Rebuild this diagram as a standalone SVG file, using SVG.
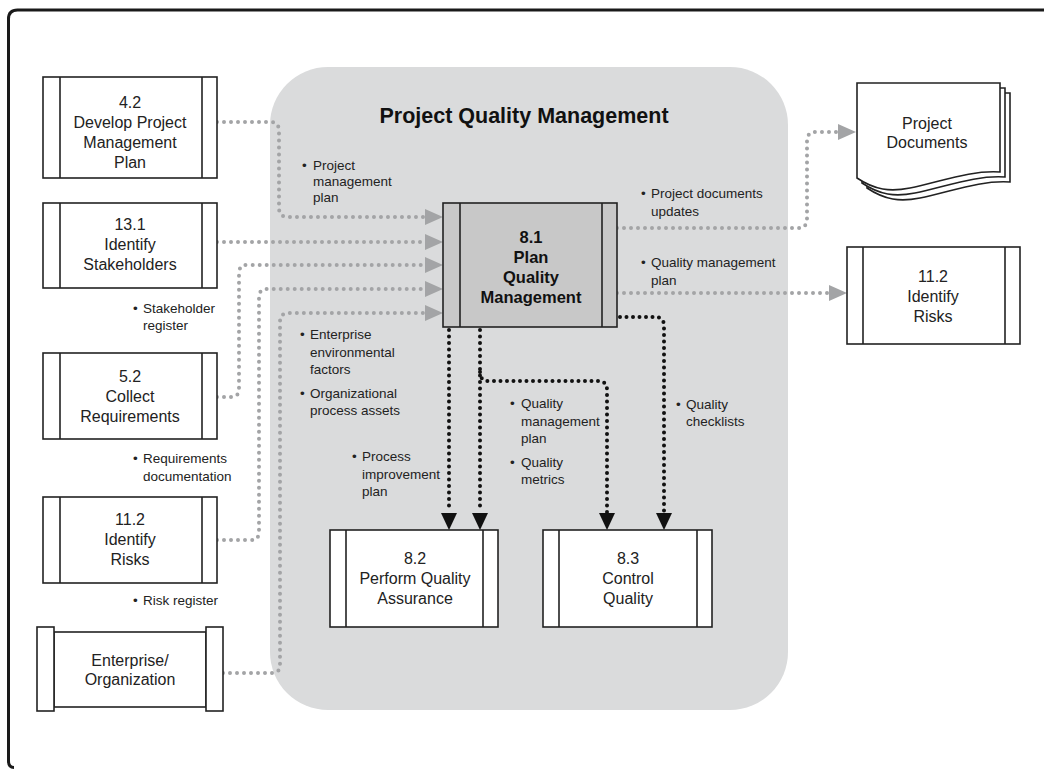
<svg xmlns="http://www.w3.org/2000/svg" width="1044" height="769" viewBox="0 0 1044 769">
<defs>
<style>
.frame{fill:none;stroke:#1a1a1a;stroke-width:3}
.box{fill:#fff;stroke:#222;stroke-width:1.6}
.box81{fill:#c8c8c8;stroke:#222;stroke-width:1.6}
.ln{stroke:#222;stroke-width:1.6;fill:none}
.gd{fill:none;stroke:#a3a4a6;stroke-width:4;stroke-linecap:round;stroke-dasharray:0 7}
.bd{fill:none;stroke:#111;stroke-width:4;stroke-linecap:round;stroke-dasharray:0 6.5}
.ga{fill:#a3a4a6}
.ba{fill:#111}
.bt{font-family:"Liberation Sans",Arial,sans-serif;font-size:16px;fill:#222;text-anchor:middle}
.bb{font-family:"Liberation Sans",Arial,sans-serif;font-size:16.5px;font-weight:bold;fill:#111;text-anchor:middle}
.lb{font-family:"Liberation Sans",Arial,sans-serif;font-size:13.5px;fill:#222}
.tt{font-family:"Liberation Sans",Arial,sans-serif;font-size:21.5px;font-weight:bold;fill:#111;text-anchor:middle}
</style>
</defs>
<rect x="0" y="0" width="1044" height="769" fill="#fff"/>
<path class="frame" d="M14,767.5 Q8.5,767.5 8.5,761 V19 Q8.5,10 17.5,10 H1044"/>
<rect x="270" y="67" width="518" height="643" rx="58" fill="#dadbdc"/>
<text class="tt" x="524" y="123">Project Quality Management</text>

<g id="connectors">
<path class="gd" d="M217,122 H270 Q279,122 279,131 V208 Q279,217 288,217 H425"/>
<path class="gd" d="M217,242 H425"/>
<path class="gd" d="M217,397 H231 Q239,397 239,389 V273 Q239,265 247,265 H425"/>
<path class="gd" d="M217,540 H251 Q259,540 259,532 V297 Q259,289 267,289 H425"/>
<path class="gd" d="M223,673 H272 Q280,673 280,665 V322 Q280,313 289,313 H425"/>
<polygon class="ga" points="425,209 443,217 425,225"/>
<polygon class="ga" points="425,234 443,242 425,250"/>
<polygon class="ga" points="425,257 443,265 425,273"/>
<polygon class="ga" points="425,281 443,289 425,297"/>
<polygon class="ga" points="425,305 443,313 425,321"/>
<path class="gd" d="M617,228 H798 Q807,228 807,219 V141 Q807,132 816,132 H838"/>
<polygon class="ga" points="838,124 856,132 838,140"/>
<path class="gd" d="M617,293 H829"/>
<polygon class="ga" points="829,285 847,293 829,301"/>
<path class="bd" d="M449,330 V512"/>
<path class="bd" d="M480,330 V512"/>
<path class="bd" d="M480,372 Q480,381 489,381 H598 Q607,381 607,390 V512"/>
<path class="bd" d="M620,317 H655 Q664,317 664,326 V512"/>
<polygon class="ba" points="441,513 457,513 449,530"/>
<polygon class="ba" points="472,513 488,513 480,530"/>
<polygon class="ba" points="599,513 615,513 607,530"/>
<polygon class="ba" points="656,513 672,513 664,530"/>
</g>

<g id="n42">
<rect class="box" x="43" y="77" width="174" height="101"/>
<path class="ln" d="M60,77 V178 M202,77 V178"/>
<text class="bt" x="130" y="108">4.2</text>
<text class="bt" x="130" y="128">Develop Project</text>
<text class="bt" x="130" y="148">Management</text>
<text class="bt" x="130" y="168">Plan</text>
</g>
<g id="n131">
<rect class="box" x="43" y="203" width="174" height="85"/>
<path class="ln" d="M60,203 V288 M202,203 V288"/>
<text class="bt" x="130" y="230">13.1</text>
<text class="bt" x="130" y="250">Identify</text>
<text class="bt" x="130" y="270">Stakeholders</text>
</g>
<g id="n52">
<rect class="box" x="43" y="353" width="174" height="86"/>
<path class="ln" d="M60,353 V439 M202,353 V439"/>
<text class="bt" x="130" y="382">5.2</text>
<text class="bt" x="130" y="402">Collect</text>
<text class="bt" x="130" y="422">Requirements</text>
</g>
<g id="n112a">
<rect class="box" x="43" y="497" width="174" height="86"/>
<path class="ln" d="M60,497 V583 M202,497 V583"/>
<text class="bt" x="130" y="525">11.2</text>
<text class="bt" x="130" y="545">Identify</text>
<text class="bt" x="130" y="565">Risks</text>
</g>
<g id="nEnt">
<rect class="box" x="54" y="632" width="152" height="75"/>
<rect class="box" x="37" y="627" width="17" height="84"/>
<rect class="box" x="206" y="627" width="17" height="84"/>
<text class="bt" x="130" y="666">Enterprise/</text>
<text class="bt" x="130" y="685">Organization</text>
</g>
<g id="n81">
<rect class="box81" x="443" y="203" width="174" height="124"/>
<path class="ln" d="M460,203 V327 M602,203 V327"/>
<text class="bb" x="531" y="243">8.1</text>
<text class="bb" x="531" y="263">Plan</text>
<text class="bb" x="531" y="283">Quality</text>
<text class="bb" x="531" y="303">Management</text>
</g>
<g id="n82">
<rect class="box" x="330" y="530" width="168" height="97"/>
<path class="ln" d="M346,530 V627 M483,530 V627"/>
<text class="bt" x="415" y="564">8.2</text>
<text class="bt" x="415" y="584">Perform Quality</text>
<text class="bt" x="415" y="604">Assurance</text>
</g>
<g id="n83">
<rect class="box" x="543" y="530" width="169" height="97"/>
<path class="ln" d="M559,530 V627 M697,530 V627"/>
<text class="bt" x="628" y="564">8.3</text>
<text class="bt" x="628" y="584">Control</text>
<text class="bt" x="628" y="604">Quality</text>
</g>
<g id="nDocs">
<path class="box" d="M867,93 H1010 V182 C980,180 950,192 920,198 C900,202 885,200 867,188 Z"/>
<path class="box" d="M862,88 H1005 V177 C975,175 945,187 915,193 C895,197 880,195 862,183 Z"/>
<path class="box" d="M857,83 H1000 V172 C970,170 940,182 910,188 C890,192 875,190 857,178 Z"/>
<text class="bt" x="927" y="129">Project</text>
<text class="bt" x="927" y="148">Documents</text>
</g>
<g id="n112b">
<rect class="box" x="847" y="247" width="173" height="97"/>
<path class="ln" d="M863,247 V344 M1005,247 V344"/>
<text class="bt" x="933" y="282">11.2</text>
<text class="bt" x="933" y="302">Identify</text>
<text class="bt" x="933" y="322">Risks</text>
</g>

<g id="labels">
<text class="lb" x="302" y="170">•</text>
<text class="lb" x="313" y="170">Project</text>
<text class="lb" x="313" y="186">management</text>
<text class="lb" x="313" y="202">plan</text>

<text class="lb" x="133" y="313">•</text>
<text class="lb" x="143" y="313">Stakeholder</text>
<text class="lb" x="143" y="330">register</text>

<text class="lb" x="133" y="463">•</text>
<text class="lb" x="143" y="463">Requirements</text>
<text class="lb" x="143" y="481">documentation</text>

<text class="lb" x="133" y="605">•</text>
<text class="lb" x="143" y="605">Risk register</text>

<text class="lb" x="300" y="339">•</text>
<text class="lb" x="310" y="339">Enterprise</text>
<text class="lb" x="310" y="357">environmental</text>
<text class="lb" x="310" y="374">factors</text>
<text class="lb" x="300" y="398">•</text>
<text class="lb" x="310" y="398">Organizational</text>
<text class="lb" x="310" y="415">process assets</text>

<text class="lb" x="352" y="461">•</text>
<text class="lb" x="362" y="461">Process</text>
<text class="lb" x="362" y="479">improvement</text>
<text class="lb" x="362" y="496">plan</text>

<text class="lb" x="510" y="408">•</text>
<text class="lb" x="521" y="408">Quality</text>
<text class="lb" x="521" y="426">management</text>
<text class="lb" x="521" y="443">plan</text>
<text class="lb" x="510" y="467">•</text>
<text class="lb" x="521" y="467">Quality</text>
<text class="lb" x="521" y="484">metrics</text>

<text class="lb" x="676" y="409">•</text>
<text class="lb" x="686" y="409">Quality</text>
<text class="lb" x="686" y="426">checklists</text>

<text class="lb" x="641" y="198">•</text>
<text class="lb" x="651" y="198">Project documents</text>
<text class="lb" x="651" y="216">updates</text>
<text class="lb" x="641" y="267">•</text>
<text class="lb" x="651" y="267">Quality management</text>
<text class="lb" x="651" y="285">plan</text>
</g>
</svg>
